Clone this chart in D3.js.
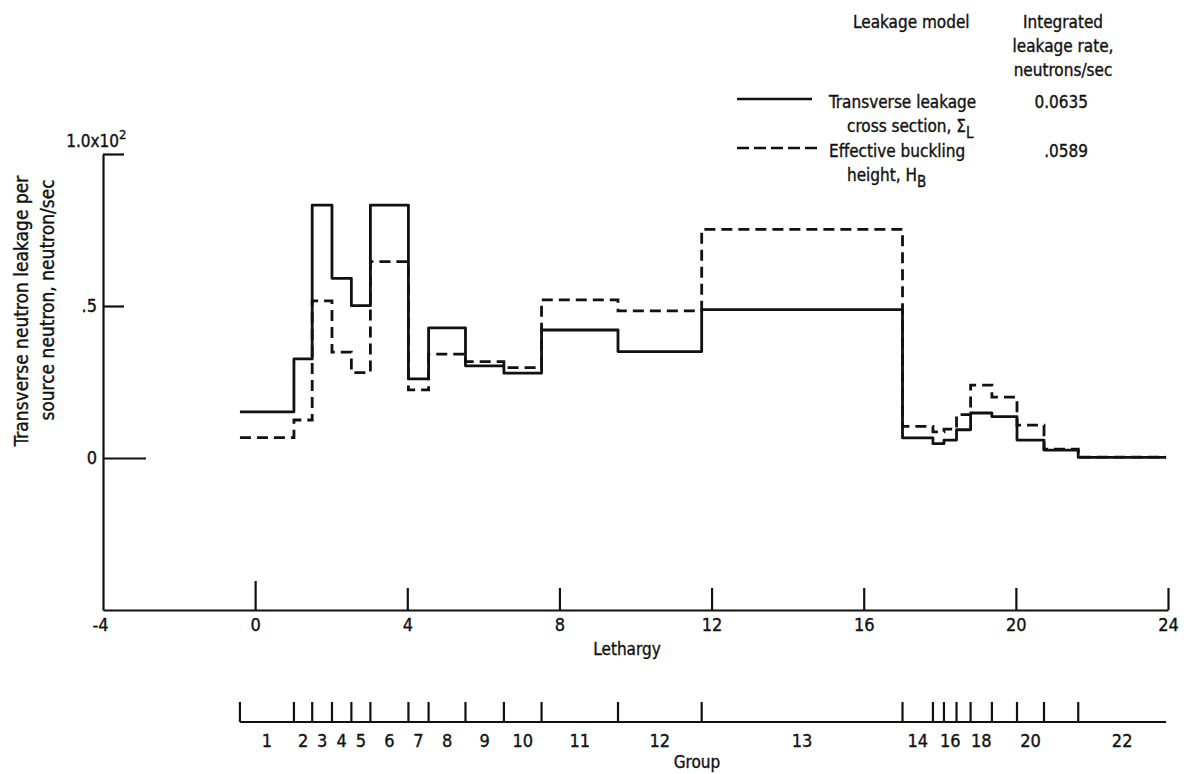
<!DOCTYPE html>
<html>
<head>
<meta charset="utf-8">
<script src="https://cdn.jsdelivr.net/npm/d3@7"></script>
<style>
  html, body { margin: 0; padding: 0; background: #fff; }
  svg { display: block; }
  text { font-family: "DejaVu Sans Condensed", "DejaVu Sans", sans-serif; font-stretch: condensed; font-size: 17px; fill: #111; stroke: #111; stroke-width: 0.35px; }
</style>
</head>
<body>
<svg id="chart" width="1187" height="774"></svg>
<script>
// Lethargy axis tick values
const lethargyTicks = [-4, 0, 4, 8, 12, 16, 20, 24];
// Leakage axis tick values (units of 10^-2)
const leakageTicks = [0, 0.5, 1.0];
const leakageTickLabels = ["0", ".5", "1.0x10"];

// Energy-group boundaries in lethargy (22 groups)
const groupBounds = [-0.40, 1.02, 1.50, 2.02, 2.53, 3.03, 4.03, 4.56, 5.53, 6.54, 7.53,
  9.54, 11.74, 17.02, 17.82, 18.11, 18.44, 18.81, 19.37, 20.03, 20.74, 21.64, 23.95];
const groupLabels = ["1", "2", "3", "4", "5", "6", "7", "8", "9", "10", "11", "12", "13",
  "14", "", "16", "", "18", "", "20", "", "22"];

// Transverse leakage per source neutron, one value per group
const leakageSigmaL = [0.152, 0.326, 0.832, 0.591, 0.501, 0.832, 0.260, 0.428, 0.303, 0.279,
  0.421, 0.350, 0.488, 0.066, 0.047, 0.059, 0.093, 0.148, 0.136, 0.059, 0.026, 0.002];
const leakageHB = [0.067, 0.125, 0.517, 0.348, 0.281, 0.646, 0.224, 0.342, 0.317, 0.297,
  0.520, 0.484, 0.752, 0.104, 0.086, 0.095, 0.143, 0.240, 0.200, 0.108, 0.029, 0.003];

// Legend entries
const legendModels = [
  { lines: ["Transverse leakage", "cross section,  \u03A3"], sub: "L", rate: "0.0635", dash: null },
  { lines: ["Effective buckling", "height,  H"], sub: "B", rate: ".0589", dash: "12,5" }
];

const svg = d3.select("#chart");
const x = d3.scaleLinear().domain([-4, 24]).range([103, 1168]);
const y = d3.scaleLinear().domain([-0.5, 1.0]).range([610, 154]);

const ink = "#111";

// ---- Lethargy axis (ticks point up into the plot)
const xAxis = d3.axisBottom(x)
  .tickValues(lethargyTicks)
  .tickSize(-22)
  .tickSizeOuter(0)
  .tickPadding(8)
  .tickFormat(d => String(d));
const gx = svg.append("g").attr("transform", `translate(0,${y(-0.5)})`).call(xAxis);
gx.attr("font-size", null).attr("font-family", null);
gx.select(".domain").attr("stroke", ink).attr("stroke-width", 2.2);
gx.selectAll(".tick line").attr("stroke", ink).attr("stroke-width", 2.2)
  .attr("y2", d => d === 0 ? -29 : (d === -4 ? 0 : -22));
gx.selectAll(".tick text")
  .attr("fill", ink).attr("dy", "0.71em").style("font-size", "18px")
  .attr("dx", d => d === -4 ? -3 : 0);

svg.append("text").attr("x", 627).attr("y", 655).attr("text-anchor", "middle").text("Lethargy");

// ---- Leakage axis (ticks point right into the plot)
const yAxis = d3.axisLeft(y)
  .tickValues(leakageTicks)
  .tickSize(-21)
  .tickSizeOuter(0)
  .tickPadding(6)
  .tickFormat((d, i) => d === 1 ? "" : leakageTickLabels[i]);
const gy = svg.append("g").attr("transform", `translate(${x(-4)},0)`).call(yAxis);
gy.attr("font-size", null).attr("font-family", null);
gy.select(".domain").attr("stroke", ink).attr("stroke-width", 2.2);
gy.selectAll(".tick line").attr("stroke", ink).attr("stroke-width", 2.2)
  .attr("x2", d => d === 0 ? 43 : 21);
gy.selectAll(".tick text").attr("fill", ink).style("font-size", "18px");

// top label with exponent
svg.append("text").attr("x", 119).attr("y", y(1) - 7)
  .attr("text-anchor", "end").style("font-size", "17px").text(leakageTickLabels[2]);
svg.append("text").attr("x", 119).attr("y", y(1) - 15)
  .style("font-size", "13px").text("2");

// axis title
const yTitle = svg.append("g");
yTitle.append("text").attr("transform", "translate(28,311) rotate(-90)")
  .attr("text-anchor", "middle").style("font-size", "19px").text("Transverse neutron leakage per");
yTitle.append("text").attr("transform", "translate(54,300) rotate(-90)")
  .attr("text-anchor", "middle").style("font-size", "19px").text("source neutron,  neutron/sec");

// ---- Step curves
const stepLine = d3.line()
  .x(d => x(d[0]))
  .y(d => y(d[1]))
  .curve(d3.curveStepAfter);
function stepPoints(vals) {
  const pts = vals.map((v, i) => [groupBounds[i], v]);
  pts.push([groupBounds[groupBounds.length - 1], vals[vals.length - 1]]);
  return pts;
}
svg.append("path").datum(stepPoints(leakageHB))
  .attr("d", stepLine).attr("fill", "none").attr("stroke", ink)
  .attr("stroke-width", 2.8).attr("stroke-dasharray", "11,6");
svg.append("path").datum(stepPoints(leakageSigmaL))
  .attr("d", stepLine).attr("fill", "none").attr("stroke", ink)
  .attr("stroke-width", 2.8).attr("stroke-linejoin", "round");

// ---- Group axis
const gyPos = 722;
const gGroup = svg.append("g");
gGroup.append("line")
  .attr("x1", x(groupBounds[0])).attr("x2", x(groupBounds[groupBounds.length - 1]))
  .attr("y1", gyPos).attr("y2", gyPos).attr("stroke", ink).attr("stroke-width", 2.2);
gGroup.selectAll("line.gtick").data(groupBounds.slice(0, -1)).join("line")
  .attr("class", "gtick")
  .attr("x1", d => x(d)).attr("x2", d => x(d))
  .attr("y1", gyPos).attr("y2", gyPos - 20)
  .attr("stroke", ink).attr("stroke-width", 2.2);
gGroup.selectAll("text.glabel").data(groupLabels).join("text")
  .attr("class", "glabel")
  .attr("x", (d, i) => x((groupBounds[i] + groupBounds[i + 1]) / 2))
  .attr("y", 747)
  .attr("text-anchor", "middle")
  .style("font-size", "18px")
  .text(d => d);
svg.append("text").attr("x", 697).attr("y", 768).attr("text-anchor", "middle").text("Group");

// ---- Legend
const lg = svg.append("g");
lg.append("text").attr("x", 853).attr("y", 28).text("Leakage model");
lg.append("text").attr("x", 1063).attr("y", 28).attr("text-anchor", "middle").text("Integrated");
lg.append("text").attr("x", 1063).attr("y", 52).attr("text-anchor", "middle").text("leakage rate,");
lg.append("text").attr("x", 1063).attr("y", 76).attr("text-anchor", "middle").text("neutrons/sec");

legendModels.forEach((m, i) => {
  const top = 108 + i * 49;
  lg.append("line")
    .attr("x1", 737).attr("x2", i === 0 ? 812 : 817)
    .attr("y1", top - 9).attr("y2", top - 9)
    .attr("stroke", ink).attr("stroke-width", 2.6)
    .attr("stroke-dasharray", m.dash);
  lg.append("text").attr("x", 829).attr("y", top).text(m.lines[0]);
  const t2 = lg.append("text").attr("x", 847).attr("y", top + 24);
  t2.append("tspan").text(m.lines[1]);
  t2.append("tspan").attr("dy", 6).style("font-size", "15px").text(m.sub);
  lg.append("text").attr("x", 1088).attr("y", top).attr("text-anchor", "end").text(m.rate);
});
</script>
</body>
</html>
